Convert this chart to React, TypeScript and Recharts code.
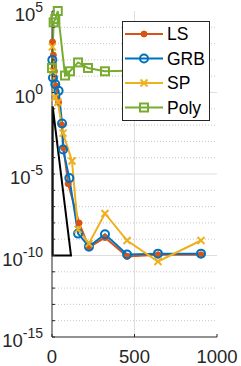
import React from 'react';
import { LineChart, Line, XAxis, YAxis, ReferenceLine, Legend } from 'recharts';

// (x = iterations, y = error, log scale)
const lsX = [3, 8, 15, 25, 40, 60, 70, 98, 164, 224, 321, 455, 642, 903];
const lsY = [1260, 200, 20, 2.5, 0.25, 0.01, 4e-4, 2.5e-6, 1e-8, 3.2e-10, 1.26e-9, 8.7e-11, 1.1e-10, 1.1e-10];

const grbX = [2, 6, 20, 40, 61, 67, 105, 158, 224, 321, 455, 642, 903];
const grbY = [100, 8, 3.2, 1.26, 0.0126, 3.2e-4, 5.6e-6, 2.2e-9, 3.5e-10, 2e-9, 1.15e-10, 1.3e-10, 1.3e-10];

const spX = [2, 6, 18, 36, 67, 121, 158, 224, 321, 455, 642, 903];
const spY = [630, 20, 0.5, 0.25, 3.2e-3, 6.3e-5, 4e-9, 5.5e-10, 3.8e-8, 8.3e-10, 4.3e-11, 8.3e-10];

const polyX = [0, 10, 20, 35, 79, 109, 158, 218, 321, 520];
const polyY = [32, 2e4, 3.2e4, 1e5, 11, 20, 70, 32, 20, 22];

// slope triangle
const triX = [4, 115, 4, 4];
const triY = [0.14, 1e-10, 1e-10, 0.14];

const xTicks = [0, 500, 1000];
const yTicks = [
  1e-15, 1e-14, 1e-13, 1e-12, 1e-11, 1e-10, 1e-9, 1e-8, 1e-7, 1e-6, 1e-5,
  1e-4, 1e-3, 1e-2, 1e-1, 1, 1e1, 1e2, 1e3, 1e4, 1e5,
];

const AXIS = '#262626';
const FONT = '"Liberation Sans", Arial, sans-serif';

const toPoints = (xs: number[], ys: number[]) => xs.map((x, i) => ({ x, y: ys[i] }));

const series = [
  { name: 'LS', color: '#D95319', kind: 'dot', data: toPoints(lsX, lsY) },
  { name: 'GRB', color: '#0072BD', kind: 'circle', data: toPoints(grbX, grbY) },
  { name: 'SP', color: '#EDB120', kind: 'x', data: toPoints(spX, spY) },
  { name: 'Poly', color: '#77AC30', kind: 'square', data: toPoints(polyX, polyY) },
];

function marker(kind: string, color: string, cx: number, cy: number, key?: any) {
  if (cx == null || cy == null) return <g key={key} />;
  if (kind === 'dot') return <circle key={key} cx={cx} cy={cy} r={3} fill={color} stroke={color} />;
  if (kind === 'circle')
    return <circle key={key} cx={cx} cy={cy} r={4} fill="none" stroke={color} strokeWidth={2} />;
  if (kind === 'x')
    return (
      <g key={key} stroke={color} strokeWidth={2}>
        <line x1={cx - 3.5} y1={cy - 3.5} x2={cx + 3.5} y2={cy + 3.5} />
        <line x1={cx - 3.5} y1={cy + 3.5} x2={cx + 3.5} y2={cy - 3.5} />
      </g>
    );
  return <rect key={key} x={cx - 4} y={cy - 4} width={8} height={8} fill="none" stroke={color} strokeWidth={2} />;
}

const YTick = ({ x, y, payload }: any) => {
  const e = Math.round(Math.log10(payload.value));
  if (e % 5 !== 0) return <g />;
  return (
    <text x={x} y={y + 10} textAnchor="end" fontSize={18.5} fill={AXIS} fontFamily={FONT}>
      <tspan>10</tspan>
      <tspan dy={-9} fontSize={14}>{e}</tspan>
    </text>
  );
};

const XTick = ({ x, y, payload }: any) => (
  <text x={x} y={y + 26} textAnchor="middle" fontSize={18.5} fill={AXIS} fontFamily={FONT}>
    {payload.value}
  </text>
);

const renderLegend = () => (
  <svg width={88} height={100} style={{ display: 'block' }}>
    <rect x={0.5} y={0.5} width={87} height={99} fill="#fff" stroke={AXIS} />
    {series.map((s, i) => {
      const cy = 13 + i * 24.5;
      return (
        <g key={s.name}>
          <line x1={3} x2={41} y1={cy} y2={cy} stroke={s.color} strokeWidth={2} />
          {marker(s.kind, s.color, 22, cy)}
          <text x={45} y={cy + 6} fontSize={17.5} fill="#000" fontFamily={FONT}>
            {s.name}
          </text>
        </g>
      );
    })}
  </svg>
);

export default function App() {
  return (
    <div style={{ position: 'absolute', left: 0, top: 0, background: '#fff', fontFamily: FONT }}>
      <LineChart width={241} height={366} margin={{ top: 11, right: 24, left: 8, bottom: 4 }}>
        <XAxis
          dataKey="x"
          type="number"
          domain={[0, 1000]}
          ticks={xTicks}
          interval={0}
          height={25}
          tickSize={-3}
          tickMargin={3}
          stroke={AXIS}
          tick={<XTick />}
        />
        <XAxis
          xAxisId="top"
          orientation="top"
          type="number"
          domain={[0, 1000]}
          ticks={xTicks}
          interval={0}
          height={0}
          tickSize={-3}
          stroke={AXIS}
          tick={false}
        />
        <YAxis
          scale="log"
          type="number"
          domain={[1e-15, 1e5]}
          ticks={yTicks}
          interval={0}
          width={44}
          tickSize={-3}
          tickMargin={12}
          stroke={AXIS}
          tick={<YTick />}
        />
        <YAxis
          yAxisId="right"
          orientation="right"
          scale="log"
          type="number"
          domain={[1e-15, 1e5]}
          ticks={yTicks}
          interval={0}
          width={0}
          tickSize={-3}
          stroke={AXIS}
          tick={false}
        />
        {yTicks
          .filter((v) => Math.round(Math.log10(v)) % 5 !== 0)
          .map((v) => (
            <ReferenceLine key={'m' + v} y={v} stroke="#c8c8c8" strokeDasharray="1 2" strokeWidth={1} />
          ))}
        {[1e-10, 1e-5, 1].map((v) => (
          <ReferenceLine key={'g' + v} y={v} stroke="#dedede" strokeWidth={1} />
        ))}
        <ReferenceLine x={500} stroke="#dedede" strokeWidth={1} />
        <Line
          data={toPoints(triX, triY)}
          dataKey="y"
          stroke="#000"
          strokeWidth={2}
          dot={false}
          legendType="none"
          isAnimationActive={false}
        />
        {series.map((s) => (
          <Line
            key={s.name}
            name={s.name}
            data={s.data}
            dataKey="y"
            type="linear"
            stroke={s.color}
            strokeWidth={2}
            dot={(p: any) => marker(s.kind, s.color, p.cx, p.cy, p.key ?? p.index)}
            activeDot={false}
            isAnimationActive={false}
          />
        ))}
        <Legend
          layout="vertical"
          align="center"
          verticalAlign="middle"
          content={renderLegend}
          wrapperStyle={{ position: 'absolute', left: 122, top: 21, width: 88, height: 100 }}
        />
      </LineChart>
    </div>
  );
}
